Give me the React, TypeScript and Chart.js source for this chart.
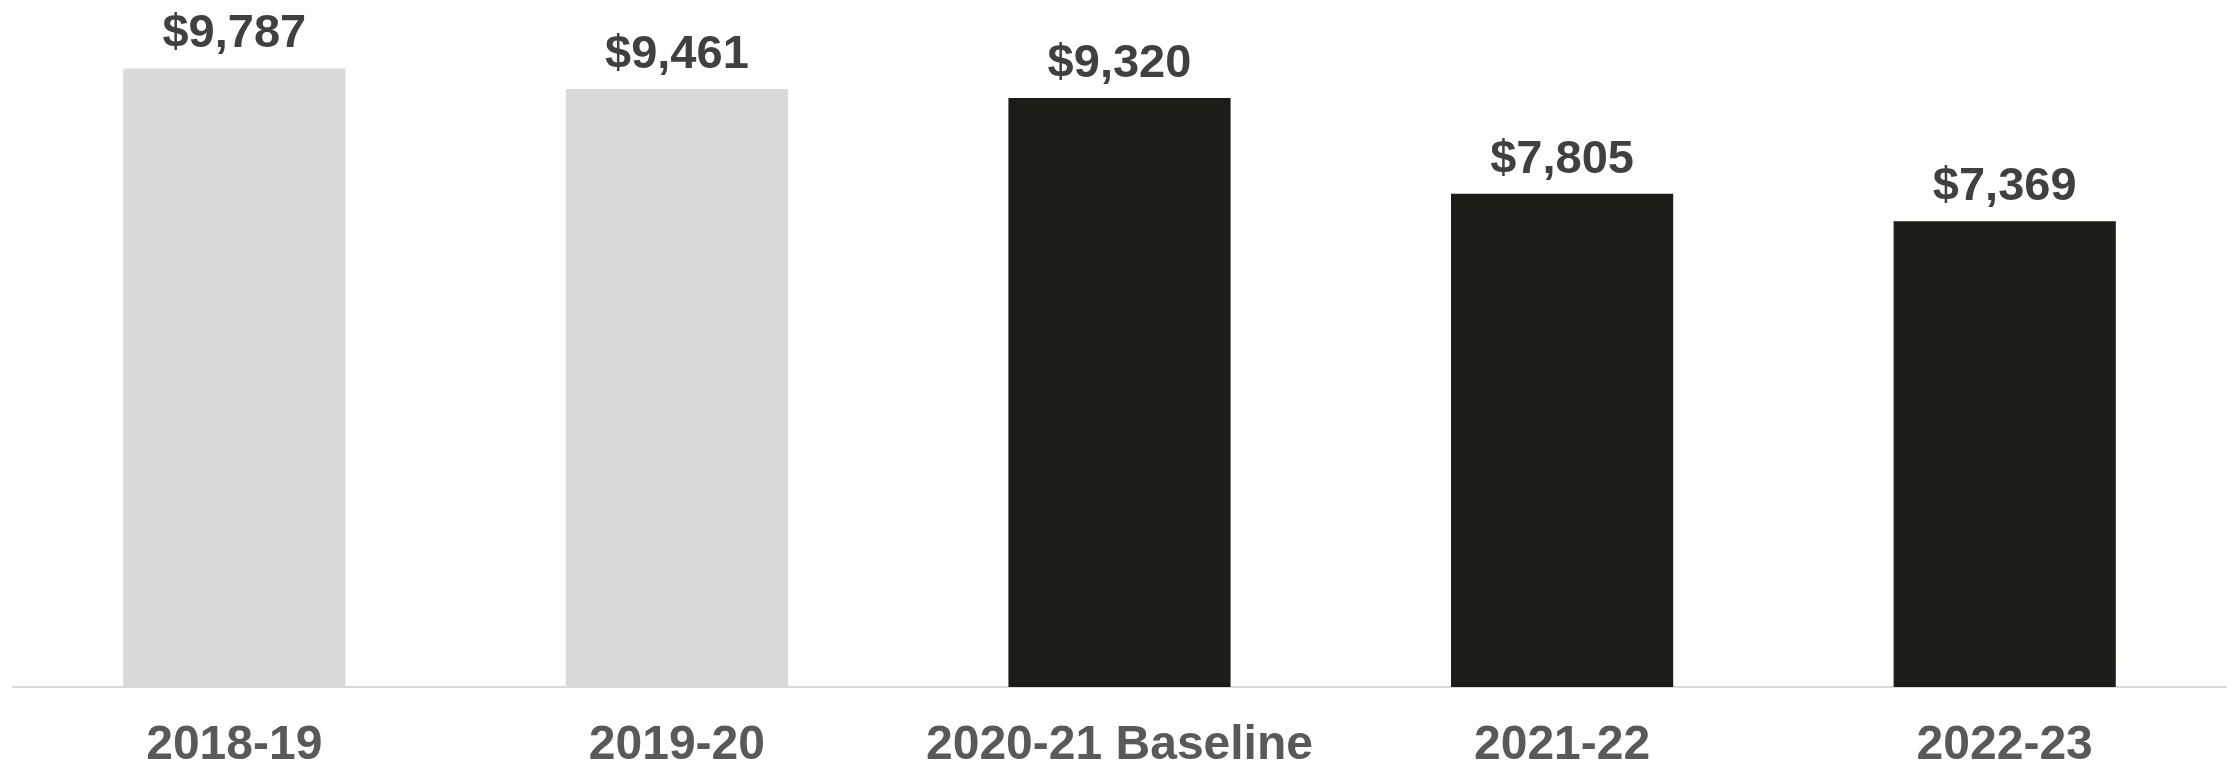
import React, { useEffect, useRef } from "react";
import { Chart, registerables } from "chart.js";

Chart.register(...registerables);

// Average cost per year, with the baseline year and later years highlighted.
const categories = ["2018-19", "2019-20", "2020-21 Baseline", "2021-22", "2022-23"];
const values = [9787, 9461, 9320, 7805, 7369];
const barColors = ["#d9d9d9", "#d9d9d9", "#1c1d16", "#1c1d16", "#1c1d16"];

const FONT = "'Liberation Sans', Arial, Helvetica, sans-serif";

const formatDollar = (v: number) => "$" + v.toLocaleString("en-US");

const valueLabels = {
  id: "valueLabels",
  afterDatasetsDraw(chart: any) {
    const { ctx } = chart;
    const meta = chart.getDatasetMeta(0);
    ctx.save();
    ctx.font = `bold 47px ${FONT}`;
    ctx.fillStyle = "#404040";
    ctx.textAlign = "center";
    ctx.textBaseline = "alphabetic";
    meta.data.forEach((bar: any, i: number) => {
      ctx.fillText(formatDollar(values[i]), bar.x, bar.y - 21);
    });
    ctx.restore();
  },
};

export default function App() {
  const canvasRef = useRef<HTMLCanvasElement | null>(null);

  useEffect(() => {
    if (!canvasRef.current) return;
    const chart = new Chart(canvasRef.current, {
      type: "bar",
      data: {
        labels: categories,
        datasets: [
          {
            data: values,
            backgroundColor: barColors,
            borderWidth: 0,
            barPercentage: 0.502,
            categoryPercentage: 1.0,
          },
        ],
      },
      options: {
        responsive: false,
        animation: false,
        devicePixelRatio: 1,
        layout: { padding: { left: 13, right: 3, top: 55, bottom: 0 } },
        plugins: {
          legend: { display: false },
          tooltip: { enabled: false },
        },
        scales: {
          x: {
            grid: { display: false, drawTicks: false },
            border: { display: true, color: "#d9d9d9", width: 2 },
            ticks: {
              color: "#595959",
              font: { family: FONT, size: 48, weight: "bold" },
              padding: 30,
              maxRotation: 0,
              autoSkip: false,
            },
            afterFit(scale: any) {
              scale.height = 78;
            },
          },
          y: {
            display: false,
            min: 0,
            max: 10000,
          },
        },
      },
      plugins: [valueLabels],
    });
    return () => chart.destroy();
  }, []);

  return (
    <div style={{ position: "absolute", left: 0, top: 0, width: 2229, height: 765, background: "#ffffff" }}>
      <canvas ref={canvasRef} width={2229} height={765} style={{ display: "block" }} />
    </div>
  );
}
